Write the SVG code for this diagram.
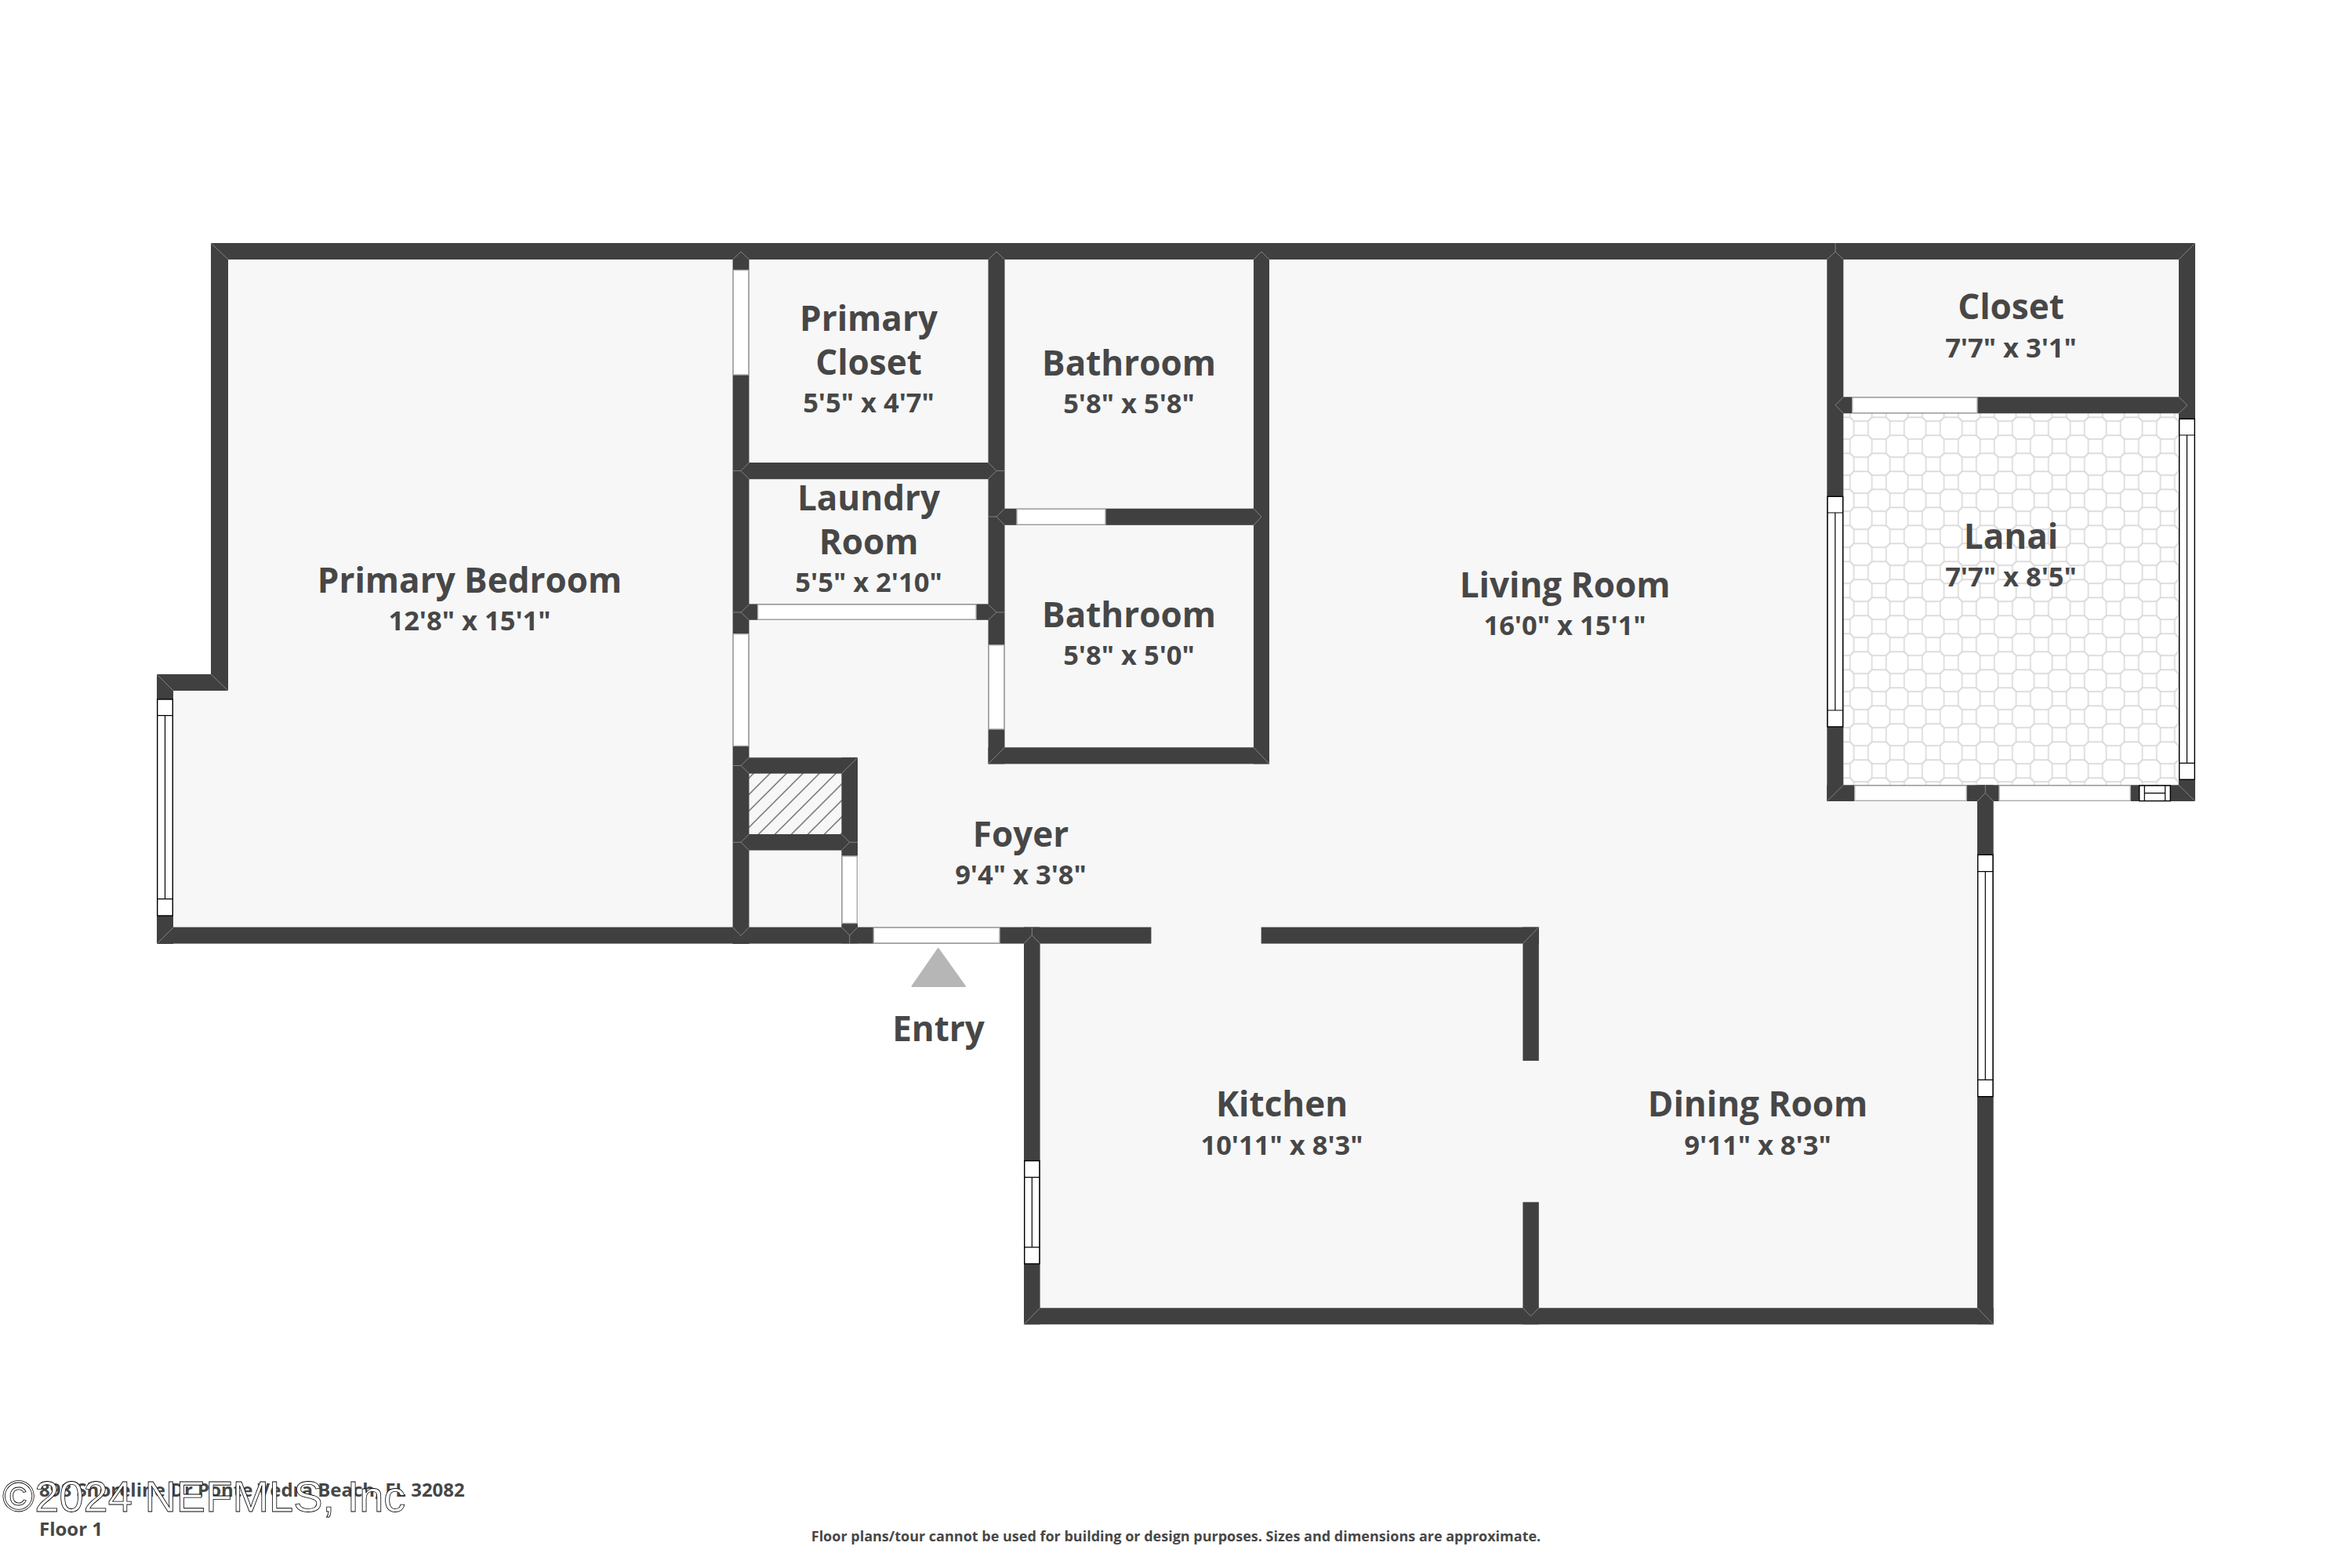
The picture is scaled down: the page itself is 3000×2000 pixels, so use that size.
<svg xmlns="http://www.w3.org/2000/svg" xmlns:xlink="http://www.w3.org/1999/xlink" width="3000" height="2000" viewBox="0 0 3000 2000">
<style>
.floor{fill:#f7f7f7}
.w{fill:#404040}
.d{fill:#fff;stroke:#ababab;stroke-width:1.4}
.win{fill:#fff;stroke:#000;stroke-width:1.4}
.winl{fill:none;stroke:#000;stroke-width:1.2}
.seam{fill:none;stroke:#8a8a8a;stroke-width:.9}
text{font-family:"Open Sans","Noto Sans","Liberation Sans",sans-serif;fill:#474747;text-anchor:middle;font-weight:700}
.t{font-size:44px}
.s{font-size:34.5px}
.addr{font-size:24px;text-anchor:start}
.note{font-size:18px}
.wm{font-family:"Liberation Sans",Arial,sans-serif;font-size:56px;font-weight:400;fill:#fff;stroke:#000;stroke-width:.8;text-anchor:start}
</style>
<defs>
<path id="oct" d="M-9.15 -13.85h18.3l4.7 4.7v18.3l-4.7 4.7h-18.3l-4.7 -4.7v-18.3z" fill="none" stroke="#d9d9d9" stroke-width="1.6"/>
<pattern id="tile" patternUnits="userSpaceOnUse" x="2373.67" y="799.2" width="46" height="46">
<rect width="46" height="46" fill="#fff"/>
<use href="#oct" x="23" y="23"/><use href="#oct" x="0" y="0"/><use href="#oct" x="46" y="0"/><use href="#oct" x="0" y="46"/><use href="#oct" x="46" y="46"/>
</pattern>
<pattern id="hatch" patternUnits="userSpaceOnUse" x="955" y="992.6" width="21" height="21">
<path d="M-2 23L23 -2M-2 2L2 -2M19 23L23 19" fill="none" stroke="#474747" stroke-width="1.2"/>
</pattern>
</defs>
<rect width="3000" height="2000" fill="#fff"/>
<path class="floor" d="M200 860H269V310H2800V1022H2542.7V1689H1306V1203.6H200Z"/>
<rect x="2351" y="527" width="428" height="474.5" fill="url(#tile)"/>
<rect x="955" y="986" width="119" height="78.5" fill="url(#hatch)"/>
<g id="walls">
<rect class="w" x="269" y="310" width="2531" height="21"/>
<rect class="w" x="269" y="310" width="22" height="571"/>
<rect class="w" x="200" y="860" width="91" height="21"/>
<rect class="w" x="200" y="860" width="21" height="344"/>
<rect class="w" x="200" y="1182.6" width="1268.4" height="21"/>
<rect class="w" x="1608.7" y="1182.6" width="354.1" height="21"/>
<rect class="w" x="934.6" y="310" width="20.9" height="894"/>
<rect class="w" x="955" y="590" width="306" height="21.2"/>
<rect class="w" x="955" y="770.4" width="306" height="20.4"/>
<rect class="w" x="1260.5" y="310" width="21" height="664.4"/>
<rect class="w" x="1281" y="648.7" width="328" height="21.1"/>
<rect class="w" x="1260.5" y="953.3" width="358.5" height="21.1"/>
<rect class="w" x="1599" y="310" width="20" height="664.4"/>
<rect class="w" x="955" y="966.3" width="139" height="20.4"/>
<rect class="w" x="955" y="1064" width="139" height="20.6"/>
<rect class="w" x="1073.4" y="966.3" width="20.6" height="237"/>
<rect class="w" x="2330.3" y="310" width="21" height="712"/>
<rect class="w" x="2779" y="310" width="21" height="712"/>
<rect class="w" x="2351" y="506.3" width="428" height="21"/>
<rect class="w" x="2330.3" y="1001.3" width="469.7" height="20.7"/>
<rect class="w" x="2522" y="1001.3" width="20.7" height="687.9"/>
<rect class="w" x="1306" y="1182.6" width="20.6" height="506.7"/>
<rect class="w" x="1306" y="1668.3" width="1236.7" height="21"/>
<rect class="w" x="1942.4" y="1182.6" width="20.4" height="170.4"/>
<rect class="w" x="1942.4" y="1533.3" width="20.4" height="156"/>
</g>
<g id="seams">
<path class="seam" d="M269 310L291 331M200 860L221 881M269 860L291 881M200 1204L221 1183"/>
<path class="seam" d="M934.6 331L945 321L955.5 331M1260.5 331L1271 321L1281.5 331M1599 331L1609 321L1619 331"/>
<path class="seam" d="M934.6 600.5H945M955.5 590L945 600.5L955.5 611M934.6 781H945M955.5 771L945 781L955.5 791M934.6 976.5H945M955.5 966.3L945 976.5L955.5 986.6M934.6 1074.3H945M955.5 1064L945 1074.3L955.5 1084.6M934.6 1182.6L945 1193.6L955.5 1182.6"/>
<path class="seam" d="M1260.5 771L1271 781L1260.5 791M1271 781H1281.5M1260.5 590L1271 600.5L1260.5 611M1271 600.5H1281.5M1281.5 648.7L1271 659L1281.5 670M1260.5 659H1271M1260.5 974.4L1281.5 953.3M1619 974.4L1599 953.3M1599 648.7L1609 659L1599 670"/>
<path class="seam" d="M1094 966.3L1073.4 986.6M1073.4 1064L1083.7 1074.3L1073.4 1084.6M1083.7 1074.3H1094M1073.4 1182.6L1083.7 1193L1094 1182.6M1083.7 1193V1203.6"/>
<path class="seam" d="M1316.3 1182.6V1193M1306 1203.6L1316.3 1193L1326.6 1203.6M1306 1689.3L1326.6 1668.3M1962.8 1182.6L1942.4 1203.6M1942.4 1668.3L1952.6 1678.8L1962.8 1668.3M2542.7 1689.3L2522 1668.3"/>
<path class="seam" d="M2351.3 506.3L2341 516.8L2351.3 527.3M2779 506.3L2790 516.8L2779 527.3M2800 310L2779 331M2341 310V321M2330.3 331L2341 321L2351.3 331M2330.3 1022L2351.3 1001.3M2779 1001.3L2800 1022M2532.3 1001.3V1011.6M2522 1022L2532.3 1011.6L2542.7 1022"/>
</g>
<g id="doors">
<rect class="d" x="935.3" y="344.6" width="19.5" height="133.4"/>
<rect class="d" x="935.3" y="808.7" width="19.5" height="142.7"/>
<rect class="d" x="1261.2" y="822.8" width="19.6" height="107.2"/>
<rect class="d" x="1074.1" y="1092" width="19.2" height="85.6"/>
<rect class="d" x="966.6" y="771.1" width="278.4" height="19"/>
<rect class="d" x="1297" y="649.4" width="113" height="19.7"/>
<rect class="d" x="1114.3" y="1183.3" width="160.7" height="19.6"/>
<rect class="d" x="2362.7" y="507" width="159.3" height="19.6"/>
<rect class="d" x="2365.7" y="1002" width="142.6" height="19.3"/>
<rect class="d" x="2550" y="1002" width="167.3" height="19.3"/>
</g>
<g id="windows">
<rect class="win" x="200.7" y="892" width="19.6" height="276"/><path class="winl" d="M200.7 912.6H220.3M200.7 1146.7H220.3M210.5 912.6V1146.7"/>
<rect class="win" x="1306.7" y="1480.6" width="19.2" height="131.4"/><path class="winl" d="M1306.7 1501.6H1325.9M1306.7 1590.8H1325.9M1316.3 1501.6V1590.8"/>
<rect class="win" x="2331" y="633.3" width="19.6" height="293.7"/><path class="winl" d="M2331 654H2350.6M2331 906H2350.6M2340.8 654V906"/>
<rect class="win" x="2779.7" y="534.3" width="19.6" height="460"/><path class="winl" d="M2779.7 555H2799.3M2779.7 973.3H2799.3M2789.5 555V973.3"/>
<rect class="win" x="2522.7" y="1090.3" width="19.3" height="308.4"/><path class="winl" d="M2522.7 1111.7H2542M2522.7 1377.3H2542M2532.3 1111.7V1377.3"/>
<rect class="win" x="2728.7" y="1002" width="39.6" height="19.6"/><path class="winl" d="M2735.3 1002V1021.6M2761.7 1002V1021.6M2735.3 1011.7H2761.7"/>
</g>
<path id="entry-arrow" d="M1196.7 1210L1231 1258H1163.5Z" fill="#b6b6b6" stroke="#b6b6b6" stroke-width="2" stroke-linejoin="round"/>
<g id="primary-bedroom"><text class="t" x="599" y="756">Primary Bedroom</text><text class="s" x="599" y="804">12'8" x 15'1"</text></g>
<g id="primary-closet"><text class="t" x="1108" y="422">Primary</text><text class="t" x="1108" y="478">Closet</text><text class="s" x="1108" y="526">5'5" x 4'7"</text></g>
<g id="laundry-room"><text class="t" x="1108" y="651">Laundry</text><text class="t" x="1108" y="707">Room</text><text class="s" x="1108" y="755">5'5" x 2'10"</text></g>
<g id="bathroom-1"><text class="t" x="1440" y="479">Bathroom</text><text class="s" x="1440" y="527">5'8" x 5'8"</text></g>
<g id="bathroom-2"><text class="t" x="1440" y="800">Bathroom</text><text class="s" x="1440" y="848">5'8" x 5'0"</text></g>
<g id="foyer"><text class="t" x="1302" y="1080">Foyer</text><text class="s" x="1302" y="1128">9'4" x 3'8"</text></g>
<g id="living-room"><text class="t" x="1996" y="762">Living Room</text><text class="s" x="1996" y="810">16'0" x 15'1"</text></g>
<g id="closet"><text class="t" x="2565" y="407">Closet</text><text class="s" x="2565" y="455.5">7'7" x 3'1"</text></g>
<g id="lanai"><text class="t" x="2565" y="700">Lanai</text><text class="s" x="2565" y="748">7'7" x 8'5"</text></g>
<g id="kitchen"><text class="t" x="1635" y="1424">Kitchen</text><text class="s" x="1635" y="1473">10'11" x 8'3"</text></g>
<g id="dining-room"><text class="t" x="2242" y="1424">Dining Room</text><text class="s" x="2242" y="1473">9'11" x 8'3"</text></g>
<text id="entry" class="t" x="1197" y="1328">Entry</text>
<text class="addr" x="50" y="1909">898 Shoreline Dr Ponte Vedra Beach, FL 32082</text>
<text class="addr" x="50" y="1959">Floor 1</text>
<text class="note" x="1500" y="1966">Floor plans/tour cannot be used for building or design purposes. Sizes and dimensions are approximate.</text>
<text class="wm" x="3" y="1928">©2024 NEFMLS, Inc</text>
</svg>
